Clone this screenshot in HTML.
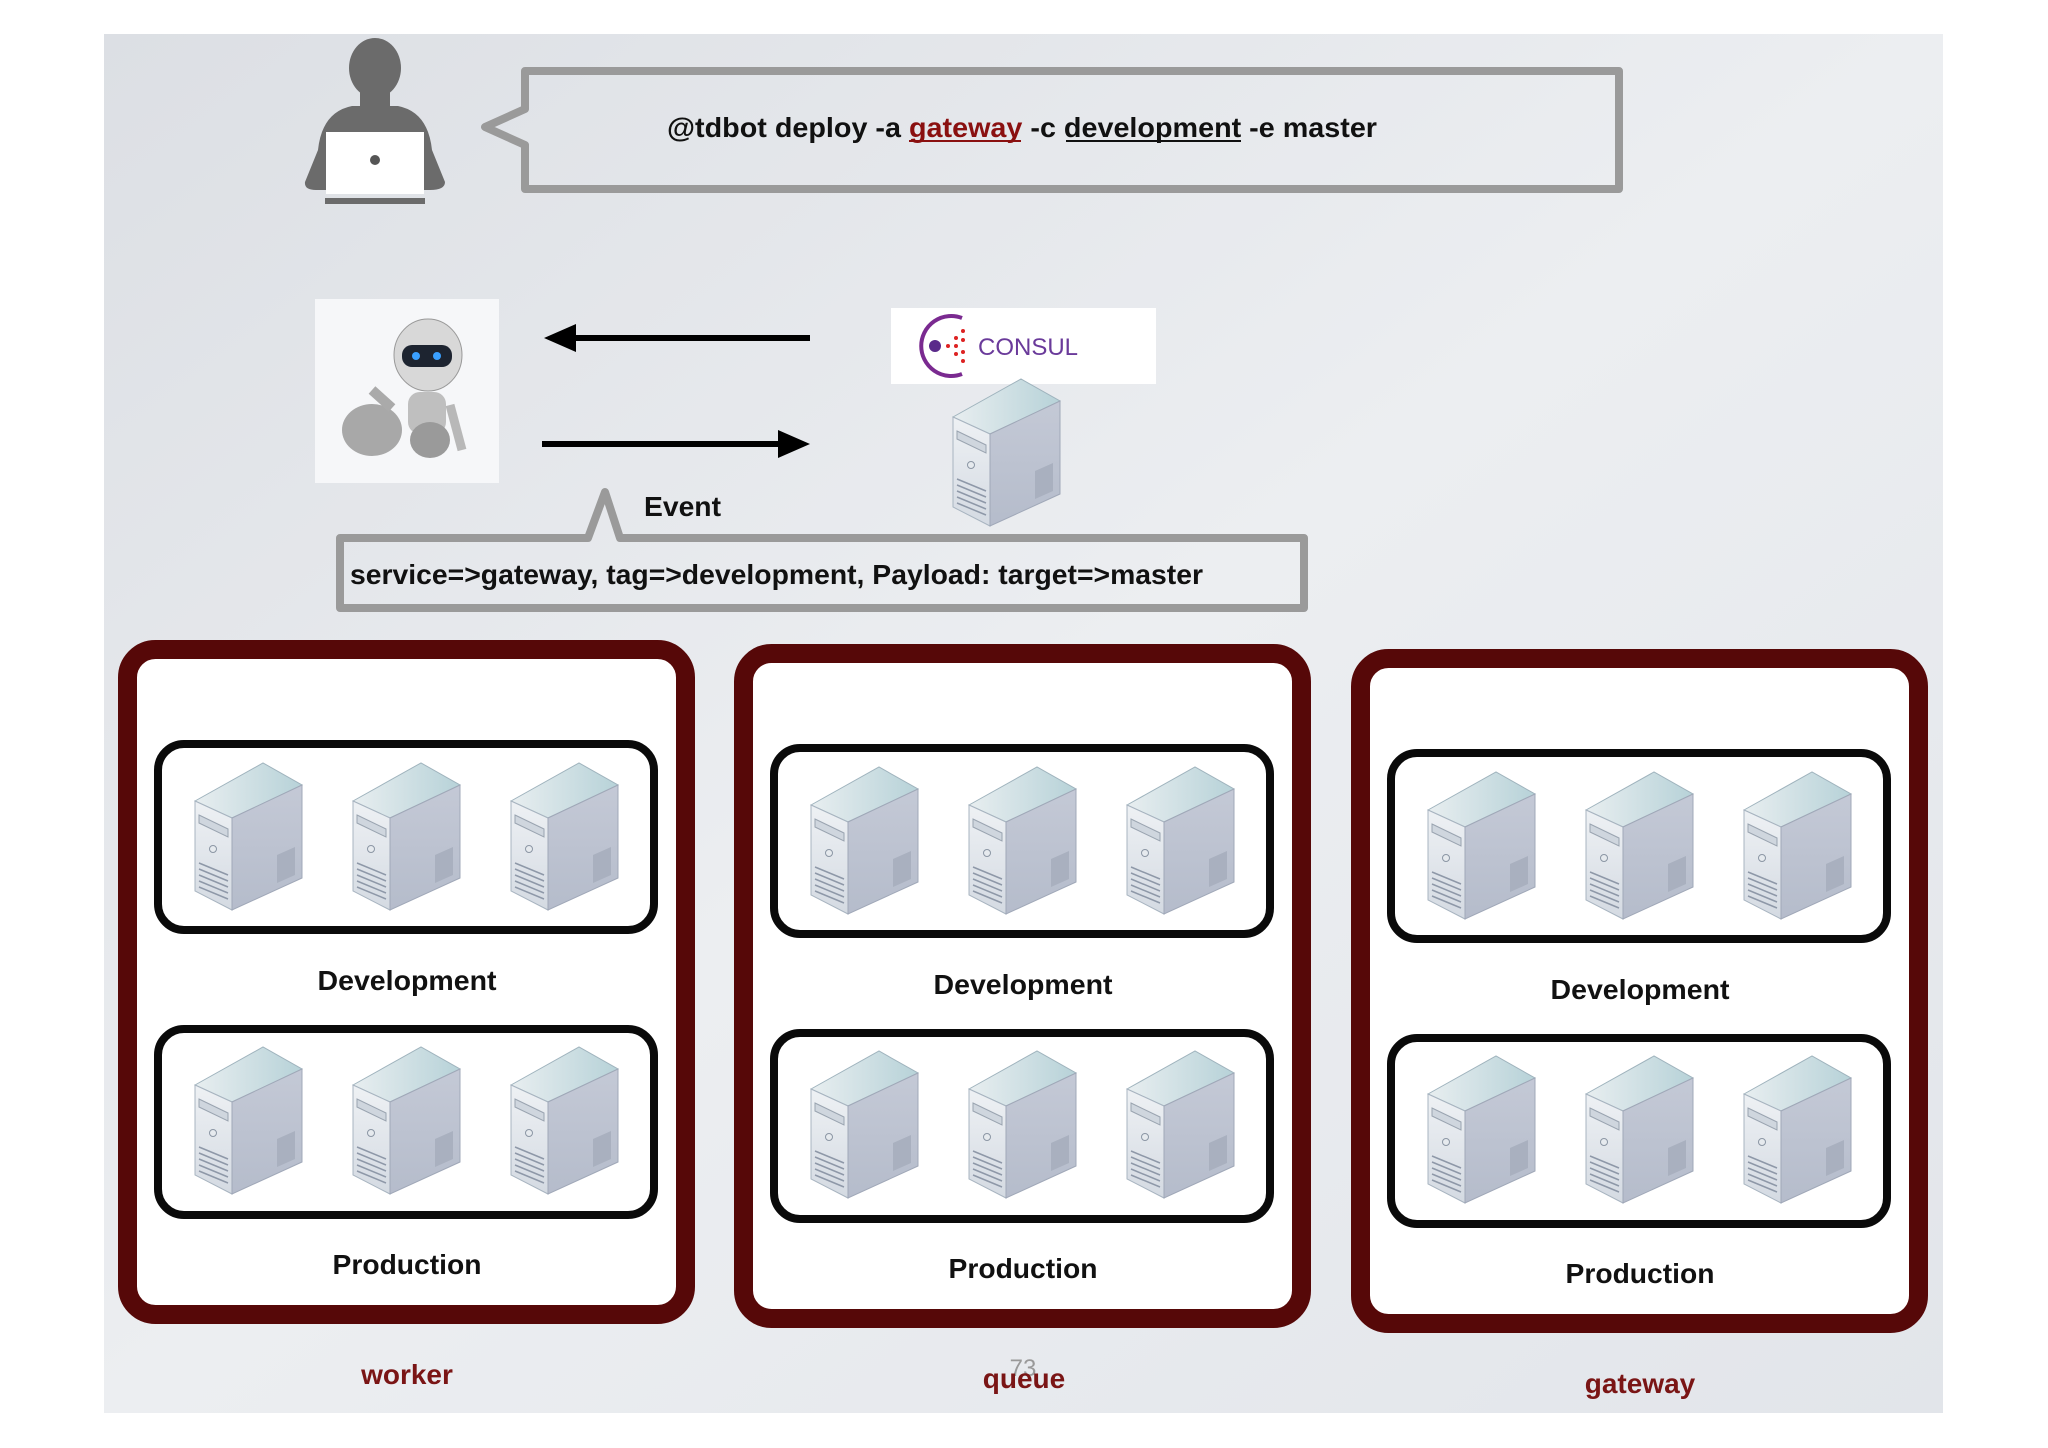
<!DOCTYPE html>
<html><head><meta charset="utf-8"><style>
html,body{margin:0;padding:0;background:#fff}
svg{display:block}
text{font-family:"Liberation Sans",Arial,sans-serif}
</style></head><body>
<svg width="2048" height="1448" viewBox="0 0 2048 1448" xmlns="http://www.w3.org/2000/svg">
<defs>
<linearGradient id="bg" x1="0" y1="0" x2="1" y2="1">
<stop offset="0" stop-color="#dcdfe4"/><stop offset="0.5" stop-color="#eceef1"/><stop offset="1" stop-color="#e2e5ea"/></linearGradient>
<linearGradient id="top" x1="0" y1="0" x2="1" y2="0"><stop offset="0" stop-color="#e8eef0"/><stop offset="1" stop-color="#b7d2d8"/></linearGradient>
<linearGradient id="lf" x1="0" y1="0" x2="0" y2="1"><stop offset="0" stop-color="#eef1f4"/><stop offset="1" stop-color="#d4dae2"/></linearGradient>
<linearGradient id="rf" x1="0" y1="0" x2="0" y2="1"><stop offset="0" stop-color="#c4c9d6"/><stop offset="1" stop-color="#b5bccb"/></linearGradient>
<g id="srv">
<polygon points="0,38 68,0 107,22 37,55" fill="url(#top)" stroke="#9fb3bd" stroke-width="1"/>
<polygon points="0,38 37,55 37,147 0,128" fill="url(#lf)" stroke="#a8b4c0" stroke-width="1"/>
<polygon points="37,55 107,22 107,115 37,147" fill="url(#rf)" stroke="#a0a8b8" stroke-width="1"/>
<polygon points="4,52 33,66 33,74 4,60" fill="#cfd6de" stroke="#9aa4b0" stroke-width="1"/>
<circle cx="18" cy="86" r="3.5" fill="#e6eaee" stroke="#8b96a4"/>
<g stroke="#8e98a8" stroke-width="1.5"><line x1="4" y1="100" x2="33" y2="112"/><line x1="4" y1="106" x2="33" y2="118"/><line x1="4" y1="112" x2="33" y2="124"/><line x1="4" y1="118" x2="33" y2="130"/><line x1="4" y1="124" x2="33" y2="136"/></g>
<polygon points="82,92 100,84 100,112 82,120" fill="#a9b0bf"/>
</g>
<g id="grp">
<rect x="127.5" y="649.5" width="558" height="665" rx="28" fill="#fff" stroke="#560808" stroke-width="19"/>
<rect x="158" y="744" width="496" height="186" rx="26" fill="#fff" stroke="#0a0a0a" stroke-width="8"/>
<rect x="158" y="1029" width="496" height="186" rx="26" fill="#fff" stroke="#0a0a0a" stroke-width="8"/>
<use href="#srv" x="195" y="763"/><use href="#srv" x="353" y="763"/><use href="#srv" x="511" y="763"/>
<use href="#srv" x="195" y="1047"/><use href="#srv" x="353" y="1047"/><use href="#srv" x="511" y="1047"/>
<text x="407" y="990" font-size="28" font-weight="bold" text-anchor="middle" fill="#111" textLength="179" lengthAdjust="spacingAndGlyphs">Development</text>
<text x="407" y="1274" font-size="28" font-weight="bold" text-anchor="middle" fill="#111" textLength="149" lengthAdjust="spacingAndGlyphs">Production</text>
</g>
</defs>
<rect x="104" y="34" width="1839" height="1379" fill="url(#bg)"/>
<!-- person -->
<g fill="#6b6b6b">
<ellipse cx="375" cy="68" rx="26" ry="30"/>
<rect x="360" y="88" width="30" height="22"/>
<path d="M318 150 Q322 112 352 106 L398 106 Q428 112 432 150 L445 182 Q445 190 430 190 L316 190 Q304 190 305 182 Z"/>
<rect x="325" y="198" width="100" height="6"/>
</g>
<rect x="326" y="132" width="98" height="62" fill="#fff"/>
<circle cx="375" cy="160" r="5" fill="#555"/>
<!-- top bubble -->
<path d="M525 71 L1619 71 L1619 189 L525 189 L525 145 L485 127 L525 109 Z" fill="none" stroke="#9a9a9a" stroke-width="8" stroke-linejoin="round"/>
<text x="667" y="137" font-size="28" font-weight="bold" fill="#111" textLength="710" lengthAdjust="spacingAndGlyphs">@tdbot deploy -a <tspan fill="#8a1010">gateway</tspan> -c development -e master</text>
<line x1="909" y1="141" x2="1021" y2="141" stroke="#8a1010" stroke-width="2"/>
<line x1="1066" y1="141" x2="1241" y2="141" stroke="#111" stroke-width="2"/>
<!-- robot -->
<rect x="315" y="299" width="184" height="184" fill="#f6f7f9"/>
<g>
<ellipse cx="428" cy="355" rx="34" ry="36" fill="#d8d8d8" stroke="#999"/>
<rect x="402" y="345" width="50" height="22" rx="10" fill="#1d2430"/>
<circle cx="416" cy="356" r="4" fill="#3aa0ff"/><circle cx="437" cy="356" r="4" fill="#3aa0ff"/>
<rect x="408" y="392" width="38" height="42" rx="12" fill="#bfbfbf"/>
<ellipse cx="372" cy="430" rx="30" ry="26" fill="#a8a8a8"/>
<ellipse cx="430" cy="440" rx="20" ry="18" fill="#9a9a9a"/>
<path d="M372 390 L392 408" stroke="#aaa" stroke-width="10"/>
<path d="M450 405 L462 450" stroke="#b8b8b8" stroke-width="9"/>
</g>
<!-- arrows -->
<line x1="570" y1="338" x2="810" y2="338" stroke="#000" stroke-width="6"/>
<polygon points="544,338 576,324 576,352" fill="#000"/>
<line x1="542" y1="444" x2="782" y2="444" stroke="#000" stroke-width="6"/>
<polygon points="810,444 778,430 778,458" fill="#000"/>
<!-- consul -->
<rect x="891" y="308" width="265" height="76" fill="#fff"/>
<path d="M962 318 A30 30 0 1 0 962 374" fill="none" stroke="#7a2a90" stroke-width="4"/>
<circle cx="935" cy="346" r="6" fill="#5a2a8a"/>
<g fill="#d22"><circle cx="948" cy="346" r="2"/><circle cx="956" cy="338" r="2"/><circle cx="956" cy="346" r="2"/><circle cx="956" cy="354" r="2"/><circle cx="963" cy="331" r="2"/><circle cx="963" cy="340" r="2"/><circle cx="963" cy="352" r="2"/><circle cx="963" cy="361" r="2"/></g>
<text x="978" y="355" font-size="24" fill="#6a3a9a">CONSUL</text>
<use href="#srv" x="953" y="379"/>
<!-- event -->
<text x="644" y="516" font-size="28" font-weight="bold" fill="#111" textLength="77" lengthAdjust="spacingAndGlyphs">Event</text>
<path d="M340 538 L588 538 L605 492 L620 538 L1304 538 L1304 608 L340 608 Z" fill="none" stroke="#9a9a9a" stroke-width="8" stroke-linejoin="round"/>
<text x="350" y="584" font-size="28" font-weight="bold" fill="#111" textLength="853" lengthAdjust="spacingAndGlyphs">service=&gt;gateway, tag=&gt;development, Payload: target=&gt;master</text>
<!-- groups -->
<use href="#grp"/>
<use href="#grp" x="616" y="4"/>
<use href="#grp" x="1233" y="9"/>
<text x="407" y="1384" font-size="28" font-weight="bold" text-anchor="middle" fill="#7a1515">worker</text>
<text x="1023" y="1376" font-size="24" text-anchor="middle" fill="#999">73</text>
<text x="1024" y="1388" font-size="28" font-weight="bold" text-anchor="middle" fill="#7a1515">queue</text>
<text x="1640" y="1393" font-size="28" font-weight="bold" text-anchor="middle" fill="#7a1515">gateway</text>
</svg>
</body></html>
